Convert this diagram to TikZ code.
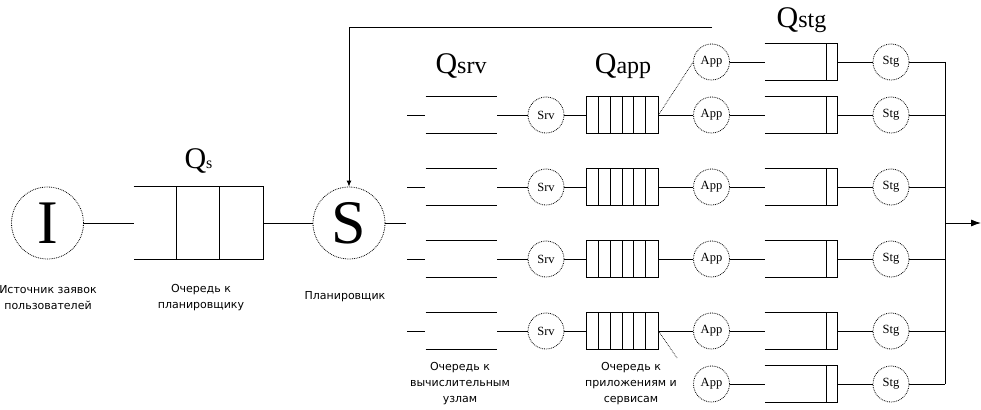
\documentclass[tikz,border=0pt]{standalone}
\usepackage{fontspec}
\setmainfont{Liberation Serif}
\newfontfamily\labelfont{DejaVu Sans}
\usetikzlibrary{arrows.meta}
\tikzset{
  bignode/.style={circle,draw,densely dotted,line width=0.8pt,minimum size=72pt,inner sep=0pt,font=\fontsize{62}{62}\selectfont},
  devnode/.style={circle,draw,densely dotted,line width=0.8pt,minimum size=36pt,inner sep=0pt,font=\fontsize{12.5}{12.5}\selectfont},
  qbox/.style={minimum width=71pt,minimum height=36pt,inner sep=0pt},
  qlabel/.style={anchor=base,inner sep=0pt},
  caption/.style={align=center,inner sep=0pt,font=\labelfont\fontsize{11}{16}\selectfont},
}
\newcommand{\qname}[2]{{\fontsize{30}{30}\selectfont Q}{\fontsize{#2}{#2}\selectfont #1}}
\begin{document}
\begin{tikzpicture}[x=1pt,y=-1pt,line width=0.9pt]
\useasboundingbox (0,0) rectangle (981,409);
\node[bignode] (src) at (47.5,223) {I};
\node[qbox,minimum width=129pt,minimum height=72pt] (qs) at (198.5,223) {};
\node[bignode] (sched) at (349,223) {S};
\draw (qs.north west)--(qs.north east)--(qs.south east)--(qs.south west);
\foreach \k in {43,86}
  \draw ([xshift=\k pt]qs.north west)--([xshift=\k pt]qs.south west);
\draw (src)--(qs.west);
\draw (qs.east)--(sched);
\coordinate (sout) at (406,223);
\draw (sched)--(sout);
\node[qlabel] (qslabel) at (198.5,168) {\qname{s}{16}};
\node[qlabel] (qsrvlabel) at (461,74) {\qname{srv}{24}};
\node[qlabel] (qapplabel) at (623,74) {\qname{app}{24}};
\node[qlabel] (qstglabel) at (801.5,28) {\qname{stg}{24}};
\foreach \y [count=\i] in {115,187,259,331}{
  \node[qbox] (qsrv\i) at (461.5,\y) {};
  \node[devnode] (srv\i) at (546,\y) {Srv};
  \node[qbox] (qapp\i) at (622.5,\y) {};
  \draw (qsrv\i.north west)--(qsrv\i.north east) (qsrv\i.south west)--(qsrv\i.south east);
  \draw ([xshift=-1pt]qsrv\i.west)--++(-18,0);
  \draw (qapp\i.north west) rectangle (qapp\i.south east);
  \foreach \k in {1,...,5}
    \draw ([xshift=\k*11.833pt]qapp\i.north west)--([xshift=\k*11.833pt]qapp\i.south west);
  \draw (qsrv\i.east)--(srv\i);
  \draw (srv\i)--(qapp\i.west);
}
\foreach \y [count=\j] in {62,115,187,259,331,384}{
  \node[devnode] (app\j) at (711.5,\y) {App};
  \node[qbox,minimum width=72pt] (qstg\j) at (801,\y) {};
  \node[devnode] (stg\j) at (891,\y) {Stg};
  \coordinate (bus\j) at (945,\y);
  \draw (qstg\j.north west)--(qstg\j.north east)--(qstg\j.south east)--(qstg\j.south west);
  \draw ([xshift=-11pt]qstg\j.north east)--([xshift=-11pt]qstg\j.south east);
  \draw (app\j)--(qstg\j.west);
  \draw (qstg\j.east)--(stg\j);
  \draw (stg\j)--(bus\j);
}
\foreach \i [evaluate=\i as \j using int(\i+1)] in {1,...,4}
  \draw (qapp\i.east)--(app\j);
\draw[densely dotted,line width=0.7pt] (qapp1.east)--(app1.west);
\coordinate (fanout) at (677,358);
\draw[densely dotted,line width=0.7pt] (qapp4.east)--(fanout);
\draw (bus1)--(bus6);
\coordinate (busmid) at (945,223);
\coordinate (out) at (981,223);
\draw[-{Latex[length=10pt,width=7pt]}] (busmid)--(out);
\coordinate (fb) at (712,27);
\draw[-{Latex[length=6pt,width=5pt]}] (fb)-|(sched);
\node[caption] (srccap) at (48,298) {Источник заявок\\пользователей};
\node[caption] (qscap) at (201,298) {Очередь к\\планировщику};
\node[caption] (schedcap) at (345,297) {Планировщик};
\node[caption] (qsrvcap) at (460,384) {Очередь к\\вычислительным\\узлам};
\node[caption] (qappcap) at (631,384) {Очередь к\\приложениям и\\сервисам};
\end{tikzpicture}
\end{document}
